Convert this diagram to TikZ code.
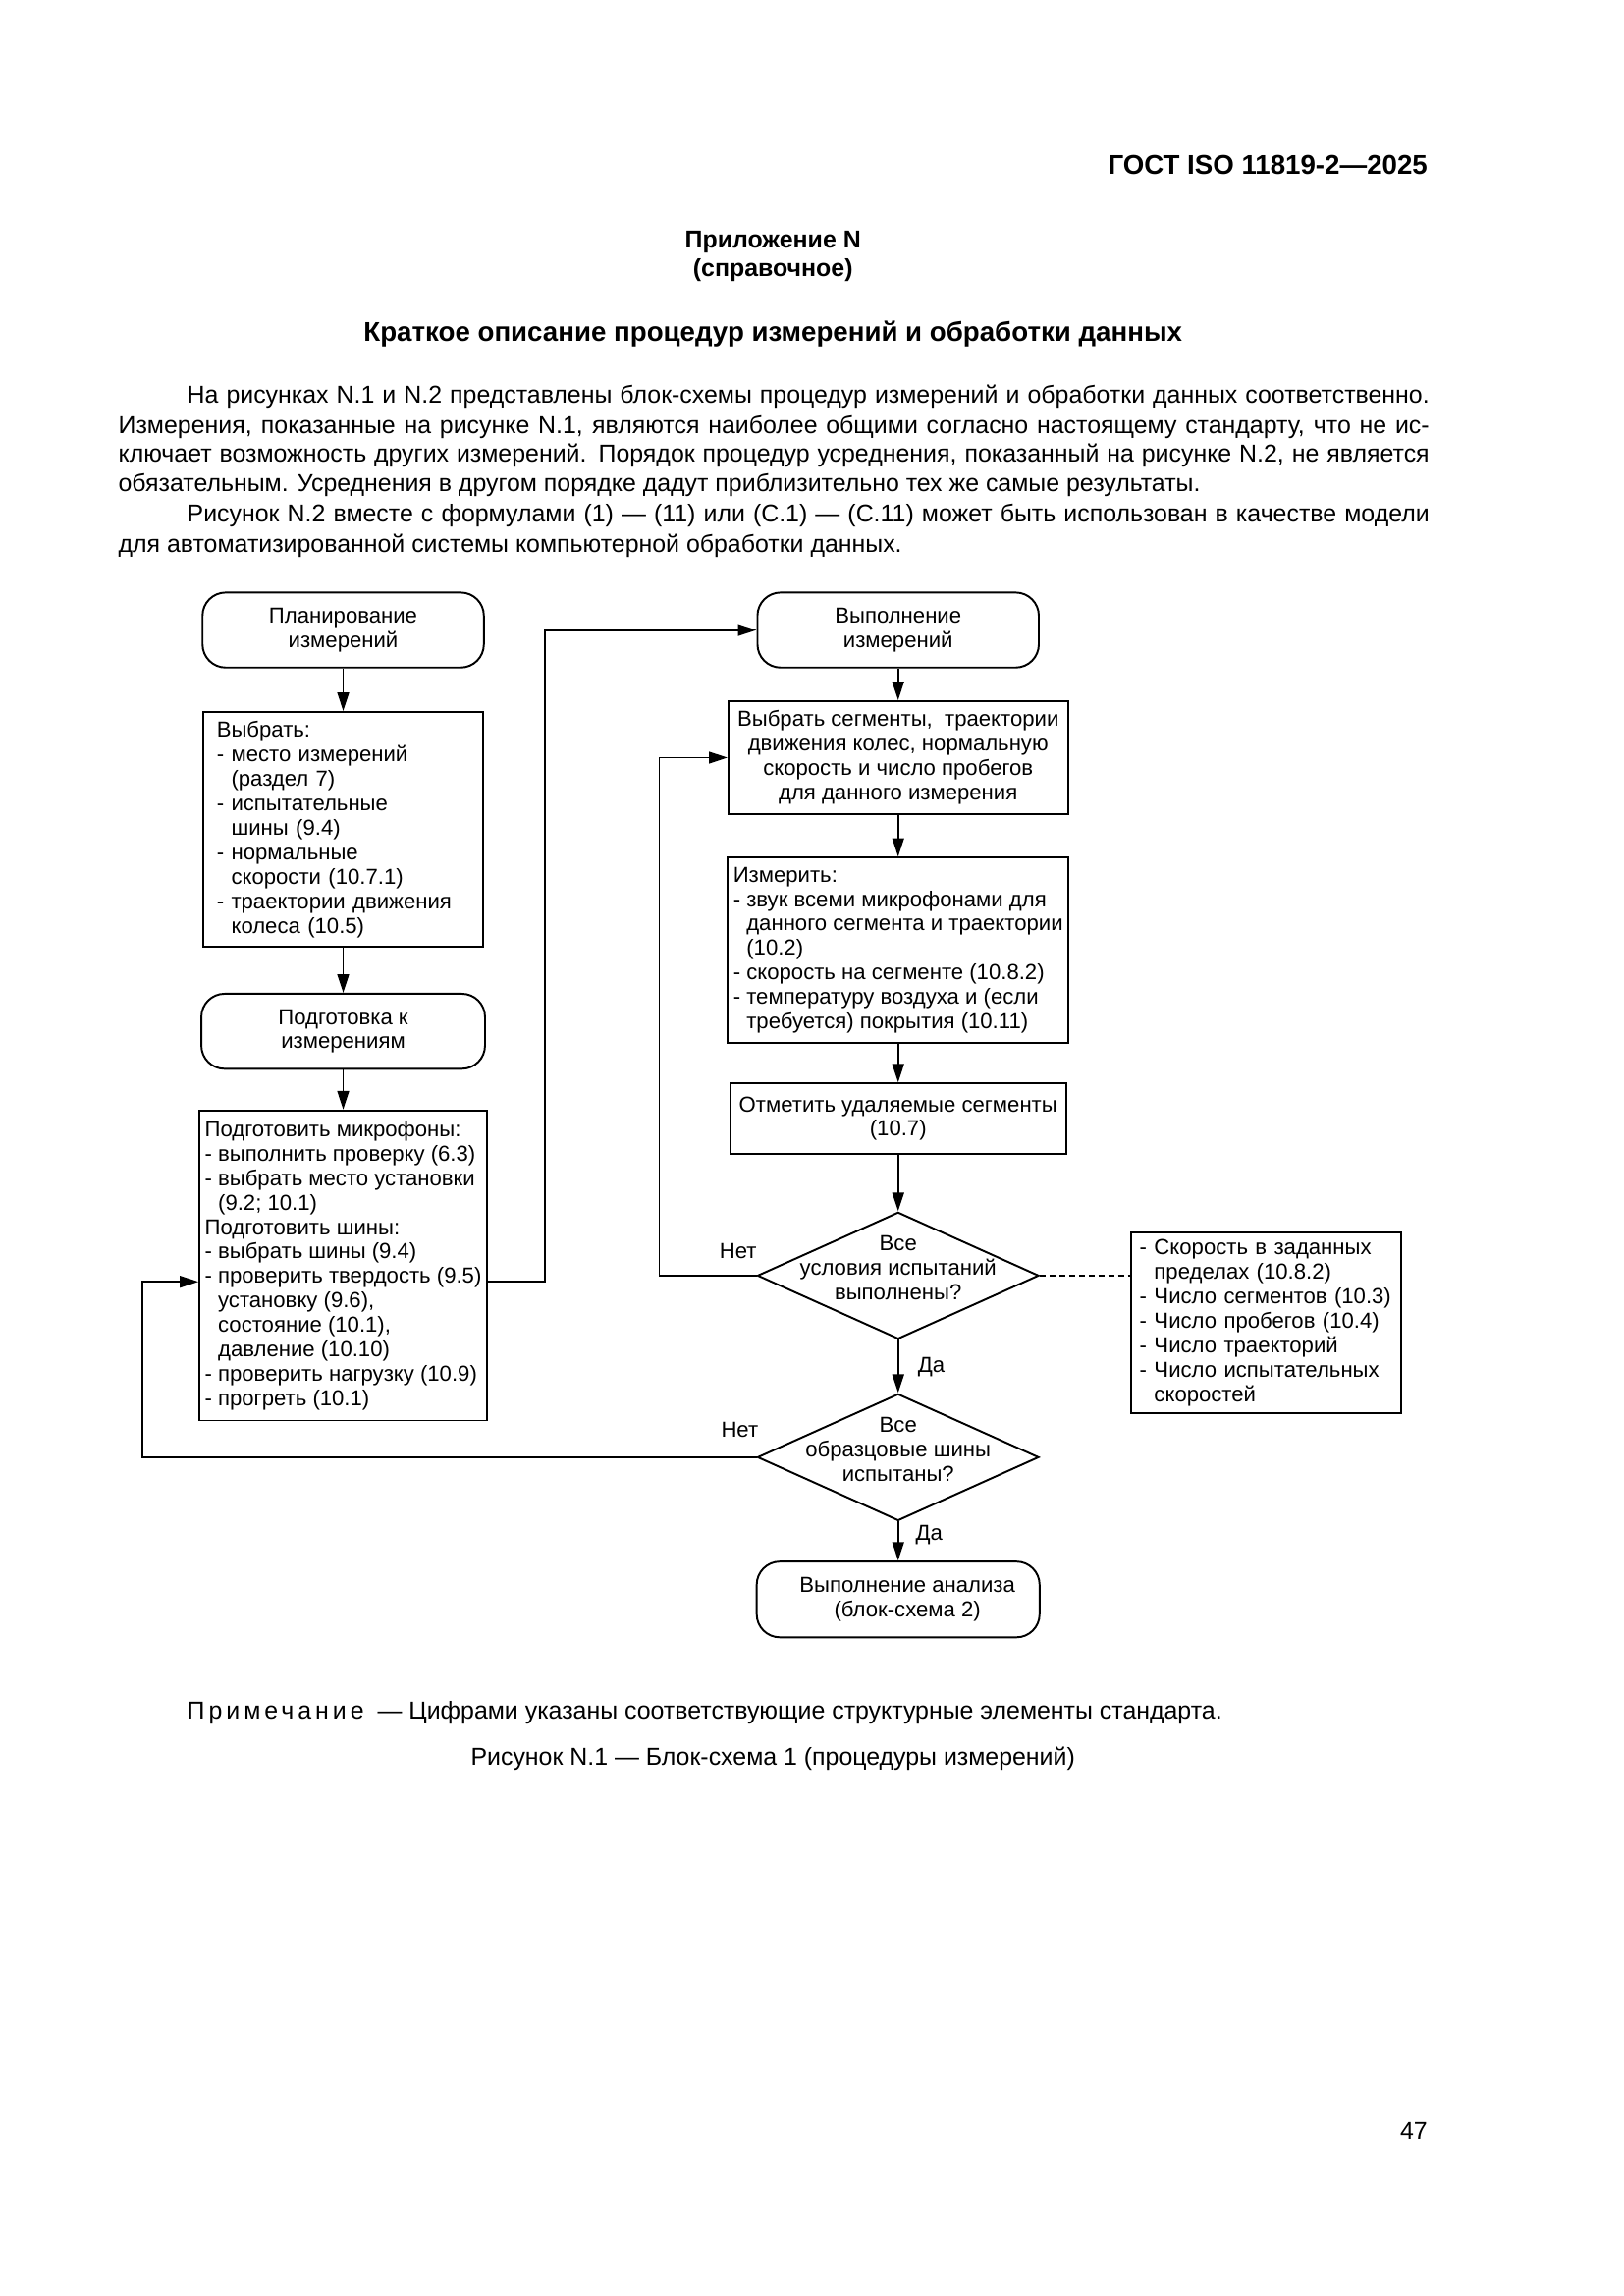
\documentclass[tikz,border=0pt]{standalone}
\usepackage{fontspec}
\setmainfont{Liberation Sans}
\usetikzlibrary{shapes.geometric,arrows.meta}

\newcommand{\chartfont}{\fontsize{8}{9}\selectfont}
\newcommand{\bodyfont}{\fontsize{9}{11}\selectfont}
\newcommand{\headfont}{\fontsize{9}{11}\selectfont\bfseries}
\newcommand{\hang}{\phantom{- }}

\begin{document}
\begin{tikzpicture}[line width=0.7pt, >={Triangle[length=2.4mm,width=1.5mm]},
  terminal/.style={draw, rounded corners=0.3cm, align=center, font=\chartfont, minimum width=3.64cm, minimum height=0.97cm, inner sep=0pt},
  block/.style={draw, align=left, font=\chartfont, inner ysep=0pt},
  decision/.style={draw, diamond, inner sep=0pt, minimum width=3.64cm, minimum height=1.64cm},
  chart/.style={font=\chartfont, align=center},
  body/.style={font=\bodyfont, anchor=base west, inner sep=0pt}]

 \fill[white] (0,0) rectangle (21,-29.7);
 \useasboundingbox (0,0) rectangle (21,-29.7);

 % page head
 \draw (18.48, -2.25) node[anchor=base east, inner sep=0pt, font=\fontsize{10}{12}\selectfont\bfseries] (gost) {ГОСТ ISO 11819-2—2025};
 \draw (10.00, -3.13) node[font=\headfont] (annex) {Приложение N};
 \draw (10.00, -3.50) node[font=\headfont] (kind) {(справочное)};
 \draw (10.00, -4.32) node[font=\fontsize{10}{12}\selectfont\bfseries] (title) {Краткое описание процедур измерений и обработки данных};

 % text
 \draw (2.41, -5.22) node[body] (line1) {\makebox[16.07cm][s]{На рисунках N.1 и N.2 представлены блок-схемы процедур измерений и обработки данных соответственно.}};
 \draw (1.52, -5.61) node[body] (line2) {\makebox[16.96cm][s]{Измерения, показанные на рисунке N.1, являются наиболее общими согласно настоящему стандарту, что не ис-}};
 \draw (1.52, -5.98) node[body] (line3) {\makebox[16.96cm][s]{ключает возможность других измерений. Порядок процедур усреднения, показанный на рисунке N.2, не является}};
 \draw (1.52, -6.36) node[body] (line4) {обязательным. Усреднения в другом порядке дадут приблизительно тех же самые результаты.};
 \draw (2.41, -6.75) node[body] (line5) {\makebox[16.07cm][s]{Рисунок N.2 вместе с формулами (1) — (11) или (C.1) — (C.11) может быть использован в качестве модели}};
 \draw (1.52, -7.14) node[body] (line6) {для автоматизированной системы компьютерной обработки данных.};

 % left column
 \draw (4.44, -8.15) node[terminal] (plan) {Планирование\\измерений};
 \draw (4.44, -10.73) node[block, text width=3.27cm, inner xsep=0.18cm, minimum height=3.04cm] (choose) {Выбрать:\\- место измерений\\\hang(раздел 7)\\- испытательные\\\hang шины (9.4)\\- нормальные\\\hang скорости (10.7.1)\\- траектории движения\\\hang колеса (10.5)};
 \draw (4.44, -13.34) node[terminal, minimum width=3.67cm] (prep) {Подготовка к\\измерениям};
 \draw (4.44, -16.37) node[block, minimum width=3.71cm, minimum height=4.01cm, inner xsep=0.07cm] (prepare) {Подготовить микрофоны:\\- выполнить проверку (6.3)\\- выбрать место установки\\\hang(9.2; 10.1)\\Подготовить шины:\\- выбрать шины (9.4)\\- проверить твердость (9.5)\\\hang установку (9.6),\\\hang состояние (10.1),\\\hang давление (10.10)\\- проверить нагрузку (10.9)\\- прогреть (10.1)};

 % right column
 \draw (11.62, -8.15) node[terminal] (run) {Выполнение\\измерений};
 \draw (11.62, -9.80) node[block, align=center, minimum width=4.35cm, minimum height=1.46cm] (segments) {Выбрать сегменты,\ \ траектории\\движения колес, нормальную\\скорость и число пробегов\\для данного измерения};
 \draw (11.62, -12.29) node[block, minimum width=4.35cm, minimum height=2.39cm, inner xsep=0.07cm] (measure) {Измерить:\\- звук всеми микрофонами для\\\hang данного сегмента и траектории\\\hang(10.2)\\- скорость на сегменте (10.8.2)\\- температуру воздуха и (если\\\hang требуется) покрытия (10.11)};
 \draw (11.62, -14.47) node[block, align=center, minimum width=4.35cm, minimum height=0.91cm] (mark) {Отметить удаляемые сегменты\\(10.7)};
 \draw (11.62, -16.50) node[decision] (cond) {};
 \draw (11.62, -16.40) node[chart] (condtext) {Все\\условия испытаний\\выполнены?};
 \draw (11.62, -18.85) node[decision] (tested) {};
 \draw (11.62, -18.75) node[chart] (testedtext) {Все\\образцовые шины\\испытаны?};
 \draw (11.62, -20.69) node[terminal, minimum width=3.66cm, minimum height=0.98cm] (analysis) {\hspace*{0.24cm}Выполнение анализа\\\hspace*{0.24cm}(блок-схема 2)};
 \draw (16.38, -17.11) node[block, text width=3.27cm, inner xsep=0.11cm, minimum height=2.33cm] (limits) {- Скорость в заданных\\\hang пределах (10.8.2)\\- Число сегментов (10.3)\\- Число пробегов (10.4)\\- Число траекторий\\- Число испытательных\\\hang скоростей};

 \draw (9.55, -16.18) node[chart] (no1) {Нет};
 \draw (12.05, -17.68) node[chart] (yes1) {Да};
 \draw (9.57, -18.50) node[chart] (no2) {Нет};
 \draw (12.02, -19.85) node[chart] (yes2) {Да};

 \coordinate (tap) at (0, -16.58);
 \coordinate (bendA) at (7.05, -12);
 \coordinate (bendB) at (8.53, -12);
 \coordinate (bendC) at (1.84, -17);

 \draw[->] (plan) -- (choose);
 \draw[->] (choose) -- (prep);
 \draw[->] (prep) -- (prepare);
 \draw[->] (prepare.east |- tap) -| (bendA) |- (run.west);
 \draw[->] (run) -- (segments);
 \draw[->] (segments) -- (measure);
 \draw[->] (measure) -- (mark);
 \draw[->] (mark) -- (cond);
 \draw[->] (cond.west) -| (bendB) |- (segments.west);
 \draw[dash pattern=on 2.2pt off 1.4pt] (cond.east) -- (limits.west |- cond);
 \draw[->] (cond) -- (tested);
 \draw[->] (tested.west) -| (bendC) |- (prepare.west |- tap);
 \draw[->] (tested) -- (analysis);

 % notes
 \draw (2.41, -22.16) node[anchor=west, inner sep=0pt, font=\bodyfont] (note) {{\addfontfeature{LetterSpace=16}Примечание}\ \ — Цифрами указаны соответствующие структурные элементы стандарта.};
 \draw (10.00, -22.75) node[font=\bodyfont] (caption) {Рисунок N.1 — Блок-схема 1 (процедуры измерений)};
 \draw (18.48, -27.56) node[anchor=east, inner sep=0pt, font=\bodyfont] (page) {47};
\end{tikzpicture}
\end{document}
